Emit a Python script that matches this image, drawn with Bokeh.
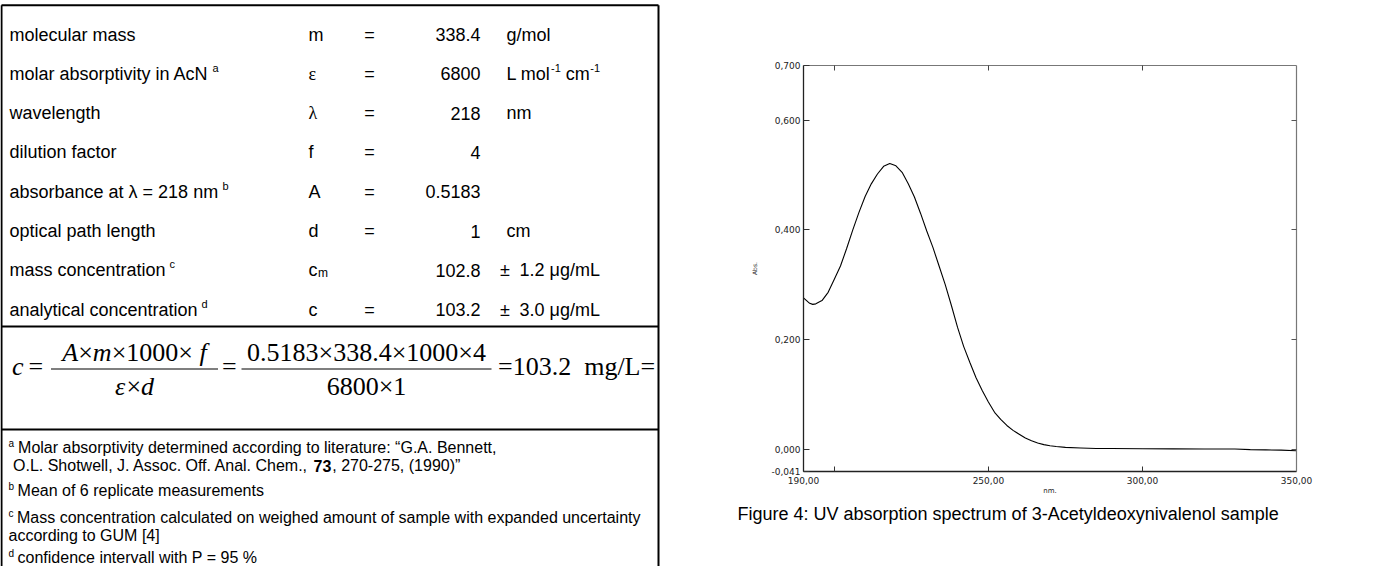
from bokeh.plotting import figure
from bokeh.models import Range1d, FixedTicker, LinearAxis, Title
from bokeh.layouts import row, column
from bokeh.embed import file_html
from bokeh.resources import INLINE
from bokeh.core.properties import value

# ---------------- data ----------------
wavelength_nm = [190, 192, 193, 194, 196, 198, 200, 202, 204, 206, 208, 210, 212, 214,
                 216, 218, 220, 222, 224, 226, 228, 230, 232, 234, 236, 238, 240, 242,
                 244, 246, 248, 250, 252, 254, 256, 258, 260, 262, 264, 266, 268, 270,
                 272, 275, 280, 285, 290, 300, 310, 320, 330, 335, 340, 345, 350]
absorbance = [0.276, 0.266, 0.264, 0.265, 0.271, 0.286, 0.310, 0.334, 0.366, 0.400, 0.432,
              0.461, 0.484, 0.502, 0.516, 0.521, 0.517, 0.505, 0.484, 0.460, 0.430, 0.398,
              0.368, 0.334, 0.300, 0.262, 0.222, 0.187, 0.158, 0.130, 0.107, 0.086, 0.067,
              0.054, 0.043, 0.034, 0.027, 0.020, 0.015, 0.011, 0.008, 0.006, 0.0045, 0.003,
              0.002, 0.001, 0.001, 0.0005, 0.0003, 0.0, 0.0, -0.001, -0.0015, -0.002, -0.003]

x_tick_values = [190, 200, 250, 300, 350]
x_tick_labels = ["190,00", "", "250,00", "300,00", "350,00"]
y_tick_values = [-0.041, 0.0, 0.2, 0.4, 0.6, 0.7]
y_tick_labels = ["-0,041", "0,000", "0,200", "0,400", "0,600", "0,700"]
x_inner_ticks = [200, 250, 300]
y_inner_ticks = [0.0, 0.2, 0.4, 0.6]
x_axis_title = "nm."
y_axis_title = "Abs."
caption = "Figure 4: UV absorption spectrum of 3-Acetyldeoxynivalenol sample"

row_labels = ["molecular mass", "molar absorptivity in AcN", "wavelength", "dilution factor",
              "absorbance at \u03bb = 218 nm", "optical path length", "mass concentration",
              "analytical concentration"]
row_notes = ["", "a", "", "", "b", "", "c", "d"]
row_symbols = ["m", "\u03b5", "\u03bb", "f", "A", "d", "c", "c"]
row_symbol_sub = ["", "", "", "", "", "", "m", ""]
row_equals = ["=", "=", "=", "=", "=", "=", "", "="]
row_values = ["338.4", "6800", "218", "4", "0.5183", "1", "102.8", "103.2"]
row_uncertainty = ["", "", "", "", "", "", "1.2 \u03bcg/mL", "3.0 \u03bcg/mL"]
row_units = [[("g/mol", 0)], [("L mol", 0), ("-1", 1), (" cm", 0), ("-1", 1)], [("nm", 0)],
             [], [], [("cm", 0)], [], []]

footnotes = [
    ("a", [[("Molar absorptivity determined according to literature: \u201cG.A. Bennett,", "normal")],
           [("O.L. Shotwell, J. Assoc. Off. Anal. Chem., ", "normal"), ("73", "bold"),
            (", 270-275, (1990)\u201d", "normal")]]),
    ("b", [[("Mean of 6 replicate measurements", "normal")]]),
    ("c", [[("Mass concentration calculated on weighed amount of sample with expanded uncertainty", "normal")],
           [("according to GUM [4]", "normal")]]),
    ("d", [[("confidence intervall with P = 95 %", "normal")]]),
]

# ---------------- helpers ----------------
SANS = "Liberation Sans"
SERIF = "Liberation Serif"
ARIAL = {' ': 278, 'a': 556, 'b': 556, 'c': 500, 'd': 556, 'e': 556, 'f': 278, 'g': 556,
         'h': 556, 'i': 222, 'j': 222, 'k': 500, 'l': 222, 'm': 833, 'n': 556, 'o': 556,
         'p': 556, 'q': 556, 'r': 333, 's': 500, 't': 278, 'u': 556, 'v': 500, 'w': 722,
         'x': 500, 'y': 500, 'z': 500, 'A': 667, 'B': 667, 'C': 722, 'D': 722, 'E': 667,
         'F': 611, 'G': 778, 'J': 500, 'L': 556, 'M': 833, 'N': 722, 'O': 778, 'P': 667,
         'S': 667, 'T': 611, 'U': 722, 'V': 667, '.': 278, ',': 278, '=': 584, '-': 333,
         '/': 278, '\u00b1': 584, '\u03bc': 576, '\u03bb': 520, '(': 333, ')': 333, '[': 278,
         ']': 278, ':': 278, '\u201c': 333, '\u201d': 333, '%': 889}
TIMES_UP = {'.': 250, '\u00d7': 564, '=': 564, ' ': 250, 'm': 778, 'g': 500, '/': 278, 'L': 611}
TIMES_IT = {'A': 611, 'm': 722, 'f': 278, 'c': 444, 'd': 500, '\u03b5': 440, ' ': 250}


def sans_w(s, size):
    return sum(ARIAL.get(ch, 556) for ch in s) * size / 1000.0


def serif_w(s, size, italic):
    tbl = TIMES_IT if italic else TIMES_UP
    return sum(tbl.get(ch, 500) for ch in s) * size / 1000.0


def put(fig, x, y, s, size, font=SANS, align="left", style="normal", baseline="middle"):
    # SVG drops leading blanks, so shift by their width instead
    if align == "left":
        while s.startswith(" "):
            x += (serif_w(" ", size, False) if font == SERIF else sans_w(" ", size))
            s = s[1:]
    fig.text(x=[x], y=[y], text=[s], text_font=value(font), text_font_size=f"{size}px",
             text_align=align, text_baseline=baseline, text_font_style=style, text_color="black")


def put_tokens(fig, x, y, tokens, size):
    for s, it in tokens:
        put(fig, x, y, s, size, font=SERIF, style="italic" if it else "normal")
        x += serif_w(s, size, it)


# ---------------- page geometry (reference pixel coords) ----------------
PAGE_W, PAGE_H = 1357, 566
W_T = 692
W_C = PAGE_W - W_T

# ---------------- table figure ----------------
t = figure(width=W_T, height=PAGE_H, x_range=Range1d(8, 8 + W_T), y_range=Range1d(8 + PAGE_H, 8),
           output_backend="svg", toolbar_location=None, x_axis_type=None, y_axis_type=None,
           min_border=0)
t.grid.visible = False
t.outline_line_color = None
t.background_fill_color = "white"
t.border_fill_color = "white"

TL, TR, TT = 9.0, 666.0, 12.7
LINE1, LINE2 = 334.0, 437.0
t.segment(x0=[TL, TR, TL, TL, TL], y0=[TT, TT, TT, LINE1, LINE2],
          x1=[TL, TR, TR, TR, TR], y1=[PAGE_H + 20, PAGE_H + 20, TT, LINE1, LINE2],
          line_color="black", line_width=2)

FS = 18
ROW0, ROW_STEP = 42.0, 39.3
LABEL_X, SYM_X, EQ_X, VAL_R, UNIT_X, PM_X, UNC_X = 17.0, 316.0, 377.0, 488.0, 514.0, 512.5, 527.0
row_y = [ROW0 + ROW_STEP * i for i in range(len(row_labels))]

t.text(x=LABEL_X, y=row_y, text=row_labels, text_font=value(SANS), text_font_size=f"{FS}px",
       text_baseline="middle", text_align="left", text_color="black")
note_x = [LABEL_X + sans_w(l, FS) + 4 for l, n in zip(row_labels, row_notes) if n]
note_y = [y - 6 for y, n in zip(row_y, row_notes) if n]
t.text(x=note_x, y=note_y, text=[n for n in row_notes if n], text_font=value(SANS),
       text_font_size="11px", text_baseline="middle", text_align="left", text_color="black")

greek = set("\u03b5\u03bb")
for y, s, sub in zip(row_y, row_symbols, row_symbol_sub):
    put(t, SYM_X, y, s, FS, font=SERIF if s in greek else SANS)
    if sub:
        put(t, SYM_X + sans_w(s, FS) + 0.5, y + 3, sub, 12)

t.text(x=EQ_X, y=row_y, text=row_equals, text_font=value(SANS), text_font_size=f"{FS}px",
       text_baseline="middle", text_align="center", text_color="black")
t.text(x=VAL_R, y=row_y, text=row_values, text_font=value(SANS), text_font_size=f"{FS}px",
       text_baseline="middle", text_align="right", text_color="black")
for y, u in zip(row_y, row_uncertainty):
    if u:
        put(t, PM_X, y, "\u00b1", FS, align="center")
        put(t, UNC_X, y, u, FS)
for y, parts in zip(row_y, row_units):
    x = UNIT_X
    for s, sup in parts:
        if sup:
            put(t, x + 0.5, y - 6, s, 11)
            x += sans_w(s, 11) + 0.5
        else:
            put(t, x, y, s, FS)
            x += sans_w(s, FS)

# formula
FF = 26
BAR_Y = 376.5
NUM_Y, DEN_Y, MID_Y = BAR_Y - 16.5, BAR_Y + 17.0, BAR_Y - 3.0
vals = dict(zip(row_symbols, row_values))
put_tokens(t, 19.5, MID_Y, [("c", True)], FF)
put_tokens(t, 36.0, MID_Y, [("=", False)], FF)
frac1 = (58.5, 225.5)
frac2 = (249.0, 499.0)
num1 = [("A", True), ("\u00d7", False), ("m", True), ("\u00d7", False), ("1000", False),
        ("\u00d7", False), (" f", True)]
den1 = [("\u03b5", True), ("\u00d7", False), ("d", True)]
eps_val = vals["\u03b5"]
num2 = [(f"{vals['A']}\u00d7{vals['m']}\u00d71000\u00d7{vals['f']}", False)]
den2 = [(f"{eps_val}\u00d7{vals['d']}", False)]
for (a, b), num, den in [(frac1, num1, den1), (frac2, num2, den2)]:
    cx = (a + b) / 2
    wn = sum(serif_w(s, FF, it) for s, it in num)
    wd = sum(serif_w(s, FF, it) for s, it in den)
    put_tokens(t, cx - wn / 2, NUM_Y, num, FF)
    put_tokens(t, cx - wd / 2, DEN_Y, den, FF)
t.segment(x0=[frac1[0], frac2[0]], x1=[frac1[1], frac2[1]], y0=[BAR_Y, BAR_Y], y1=[BAR_Y, BAR_Y],
          line_color="black", line_width=1.2)
put_tokens(t, 229.5, MID_Y, [("=", False)], FF)
put_tokens(t, 505.5, MID_Y, [(f"={row_values[7]}", False), ("  mg/L=", False)], FF)

# footnotes
FN = 16
fn_y = [455.0, 473.0, 497.5, 525.0, 543.0, 564.5]
k = 0
for letter, lines in footnotes:
    for li, line in enumerate(lines):
        y = fn_y[k]
        if li == 0:
            put(t, 16.0, y - 4, letter, 10)
            x = 16.0 + sans_w(letter, 10) + (3.5 if letter != "a" else 4.0)
        else:
            x = 20.5 if letter == "a" else 16.0
        for s, style in line:
            put(t, x, y, s, FN, style=style)
            x += sans_w(s, FN) * (1.05 if style == "bold" else 1.0)
        k += 1

# ---------------- chart figure ----------------
FRAME_TOP, FRAME_H = 65, 406
c = figure(width=W_C, height=PAGE_H, x_range=Range1d(190, 350), y_range=Range1d(-0.041, 0.7),
           output_backend="svg", toolbar_location=None, x_axis_location=None, y_axis_location=None,
           min_border_left=111, min_border_right=61, min_border_top=FRAME_TOP,
           min_border_bottom=PAGE_H - FRAME_TOP - FRAME_H)
c.grid.visible = False
c.outline_line_color = None
c.background_fill_color = "white"
c.border_fill_color = "white"

c.line(wavelength_nm, absorbance, line_color="black", line_width=1.1)

TICK_FONT = "DejaVu Sans"

left = LinearAxis(ticker=FixedTicker(ticks=y_tick_values),
                  major_label_overrides=dict(zip(y_tick_values, y_tick_labels)),
                  major_tick_in=6, major_tick_out=0, minor_tick_line_color=None,
                  major_label_standoff=3, axis_line_color="#222", axis_line_width=1.3,
                  major_tick_line_color="#333", major_label_text_font=TICK_FONT,
                  major_label_text_font_size="9px", major_label_text_color="#222",
                  axis_label=y_axis_title, axis_label_text_font=TICK_FONT,
                  axis_label_text_font_size="6px", axis_label_text_font_style="normal",
                  axis_label_standoff=10, axis_label_text_color="#222")
bottom = LinearAxis(ticker=FixedTicker(ticks=x_tick_values),
                    major_label_overrides=dict(zip(x_tick_values, x_tick_labels)),
                    major_tick_in=5, major_tick_out=0, minor_tick_line_color=None,
                    major_label_standoff=5, axis_line_color="#222", axis_line_width=1.3,
                    major_tick_line_color="#333", major_label_text_font=TICK_FONT,
                    major_label_text_font_size="9px", major_label_text_color="#222",
                    axis_label=x_axis_title, axis_label_text_font=TICK_FONT,
                    axis_label_text_font_size="7px", axis_label_text_font_style="normal",
                    axis_label_standoff=0, axis_label_text_color="#222")
top = LinearAxis(ticker=FixedTicker(ticks=x_inner_ticks), major_tick_in=5, major_tick_out=0,
                 minor_tick_line_color=None, axis_line_color="#777", axis_line_width=1.2,
                 major_tick_line_color="#444", major_label_text_color=None)
right = LinearAxis(ticker=FixedTicker(ticks=y_inner_ticks), major_tick_in=5, major_tick_out=0,
                   minor_tick_line_color=None, axis_line_color="#777", axis_line_width=1.2,
                   major_tick_line_color="#555", major_label_text_color=None)
c.add_layout(left, "left")
c.add_layout(bottom, "below")
c.add_layout(top, "above")
c.add_layout(right, "right")

cap_title = Title(text=caption, align="left", offset=-66, standoff=8,
                  text_font=SANS, text_font_size="18px", text_font_style="normal",
                  text_color="black")
c.add_layout(cap_title, "below")

# wrapping the chart in its own column keeps Bokeh from aligning its frame with the table's
layout = row(t, column(c))
open("out.html", "w").write(file_html(layout, INLINE))
